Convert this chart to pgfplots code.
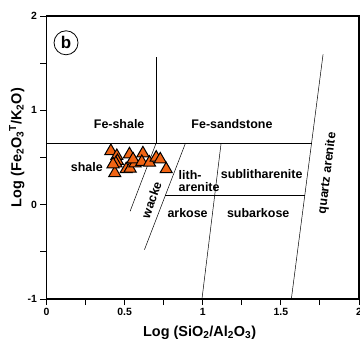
\documentclass[border=0pt]{standalone}
\usepackage{fontspec}
\setmainfont{Liberation Sans}
\usepackage{pgfplots}
\pgfplotsset{compat=1.18}
\definecolor{triorange}{RGB}{240,100,20}
\newcommand{\fieldfont}{\fontsize{12.5}{14}\selectfont\bfseries}
\newcommand{\tickfont}{\fontsize{10.5}{12}\selectfont\bfseries}
\begin{document}
\begin{tikzpicture}
\begin{axis}[
  at={(0,0)}, anchor=south west,
  scale only axis, width=312.5bp, height=283bp,
  xmin=0, xmax=2, ymin=-1, ymax=2,
  xtick={0,0.5,1,1.5,2}, minor xtick={0.25,0.75,1.25,1.75},
  ytick={-1,0,1,2}, minor ytick={-0.5,0.5,1.5},
  xticklabels={\tickfont 0,\tickfont 0.5,\tickfont 1,\tickfont 1.5,\tickfont 2},
  yticklabels={\tickfont -1,\tickfont 0,\tickfont 1,\tickfont 2},
  xtick pos=bottom, ytick pos=left,
  tick align=outside,
  major tick length=6bp, minor tick length=6bp,
  every tick/.style={black, line width=0.9bp},
  minor tick style={black, line width=0.9bp},
  axis line style={line width=1.5bp},
  ticklabel style={font=\tickfont},
  xlabel={Log (SiO\textsubscript{2}/Al\textsubscript{2}O\textsubscript{3})},
  ylabel={Log (Fe\textsubscript{2}O\textsubscript{3}\textsuperscript{T}/K\textsubscript{2}O)},
  label style={font=\fontsize{14.5}{16}\selectfont\bfseries},
  xlabel style={at={(axis description cs:0.49,-0.12)}, anchor=center},
  ylabel style={at={(axis description cs:-0.095,0.535)}, anchor=center},
]
% classification boundaries
\addplot[black, line width=0.5bp] coordinates {(0,0.646) (1.696,0.646)};
\addplot[black, line width=0.5bp] coordinates {(0.7,0.646) (0.7,1.57)};
\addplot[black, line width=0.5bp] coordinates {(1.567,-1) (1.77,1.594)};
\addplot[black, line width=0.5bp] coordinates {(0.995,-1) (1.117,0.646)};
\addplot[black, line width=0.5bp] coordinates {(0.535,-0.07) (0.70,0.646)};
\addplot[black, line width=0.5bp] coordinates {(0.627,-0.477) (0.888,0.646)};
\addplot[black, line width=0.5bp] coordinates {(0.761,0.1) (1.653,0.1)};
% samples
\addplot[only marks, mark=triangle*, mark size=7bp,
  mark options={fill=triorange, draw=black, line width=1bp}]
  coordinates {
  (0.412,0.568) (0.450,0.516) (0.454,0.463) (0.444,0.439) (0.437,0.334)
  (0.426,0.428) (0.531,0.534) (0.510,0.376) (0.535,0.383)
  (0.567,0.439) (0.554,0.481) (0.617,0.544) (0.610,0.453)
  (0.659,0.446) (0.702,0.499) (0.728,0.480) (0.766,0.376)
  };
% field names
\node[font=\fieldfont] at (axis cs:0.465,0.85) {Fe-shale};
\node[font=\fieldfont] at (axis cs:1.187,0.85) {Fe-sandstone};
\node[font=\fieldfont] at (axis cs:0.258,0.40) {shale};
\node[font=\fieldfont, anchor=west, align=left, inner sep=0pt] at (axis cs:0.845,0.25) {lith-\\[-2bp]arenite};
\node[font=\fieldfont] at (axis cs:1.377,0.323) {sublitharenite};
\node[font=\fieldfont] at (axis cs:0.903,-0.09) {arkose};
\node[font=\fieldfont] at (axis cs:1.355,-0.09) {subarkose};
\node[font=\fieldfont, rotate=70, inner sep=0pt] at (axis cs:0.672,0.05) {wacke};
\node[font=\fieldfont, rotate=83] at (axis cs:1.798,0.334) {quartz arenite};
\node[draw, circle, line width=0.8bp, inner sep=1.5bp, minimum size=24bp,
  font=\fontsize{17}{19}\selectfont\bfseries] at (axis cs:0.125,1.716) {b};
\end{axis}
\pgfresetboundingbox
\path[use as bounding box] (-46.5bp,-48bp) rectangle (313.5bp,299bp);
\end{tikzpicture}
\end{document}
